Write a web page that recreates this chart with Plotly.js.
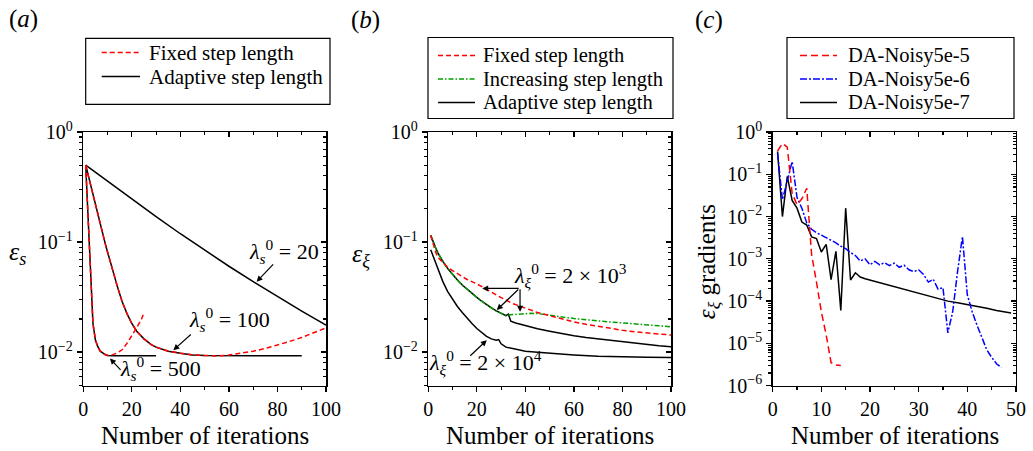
<!DOCTYPE html>
<html><head><meta charset="utf-8">
<script src="https://cdn.plot.ly/plotly-3.0.1.min.js"></script>
<style>html,body{margin:0;padding:0;background:#fff}#chart{width:1033px;height:451px}</style>
</head><body><div id="chart"></div>
<script>
// ---------- Panel (a): epsilon_s ----------
const aLam20X = [1,10,20,30,40,50,60,70,80,90,100];
const aLam20Adaptive = [0.501,0.357,0.245,0.170,0.119,0.0841,0.0603,0.0437,0.0320,0.0236,0.0176];

const aLam100X = [1,2,3,4,5,6,7,8,9,10,12,14,16,18,20,22,25,28,30,35,40,45,50,60,70,80,90];
const aLam100Adaptive = [0.501,0.407,0.324,0.263,0.214,0.174,0.143,0.117,0.0977,0.0813,0.0562,0.0398,0.0288,0.0224,0.0182,0.0155,0.0132,0.0117,0.0111,0.0102,0.00977,0.00944,0.00933,0.00925,0.00925,0.00925,0.00925];
const aLam100FixedX = [1,2,3,4,5,6,7,8,9,10,12,14,16,18,20,22,25,28,30,35,40,45,50,55,60,65,70,75,80,85,90,95,100];
const aLam100Fixed = [0.501,0.407,0.324,0.263,0.214,0.174,0.143,0.117,0.0977,0.0813,0.0562,0.0398,0.0288,0.0224,0.0182,0.0155,0.0132,0.0117,0.0111,0.0102,0.00977,0.00944,0.00933,0.00923,0.0094,0.00977,0.0102,0.0108,0.0116,0.0125,0.0136,0.0150,0.0166];

const aLam500X = [1,2,3,4,5,6,7,8,9,10,11,12,15,20,25,30];
const aLam500Adaptive = [0.501,0.166,0.0398,0.0182,0.0129,0.0112,0.0102,0.00977,0.00951,0.00933,0.00925,0.00925,0.00925,0.00925,0.00925,0.00925];
const aLam500FixedX = [1,2,3,4,5,6,7,8,9,10,11,12,14,16,18,20,22,24,25];
const aLam500Fixed = [0.501,0.166,0.0398,0.0182,0.0129,0.0112,0.0102,0.00977,0.00951,0.00933,0.00933,0.00944,0.00982,0.0105,0.0120,0.0140,0.0166,0.0200,0.0229];

// ---------- Panel (b): epsilon_xi ----------
const bUpperX = [1,2,3,4,5,6,8,10,12,14,16,18,20,22,24,26,28,30,31,32,33,34,36,38,40,45,50,55,60,65,70,75,80,85,90,95,100];
const bAdaptive2e3 = [0.115,0.100,0.0891,0.0794,0.0724,0.0668,0.0575,0.0507,0.0452,0.0407,0.0372,0.0340,0.0314,0.0290,0.0269,0.0252,0.0237,0.0224,0.0217,0.0214,0.0221,0.0191,0.0184,0.0179,0.0174,0.0163,0.0155,0.0147,0.0141,0.0136,0.0132,0.0128,0.0124,0.0120,0.0117,0.0114,0.0112];
const bIncreasingX = [1,2,3,4,5,6,8,10,12,14,16,18,20,22,24,26,28,30,31,32,33,34,36,38,40,42,45,50,55,60,65,70,75,80,85,90,95,100];
const bIncreasing = [0.115,0.100,0.0891,0.0794,0.0724,0.0668,0.0575,0.0507,0.0452,0.0407,0.0372,0.0340,0.0314,0.0290,0.0269,0.0252,0.0237,0.0224,0.0217,0.0214,0.0218,0.0219,0.0221,0.0223,0.0224,0.0225,0.0224,0.0215,0.0209,0.0202,0.0196,0.0192,0.0188,0.0184,0.0180,0.0176,0.0173,0.0170];
const bFixedX = [1,2,3,4,6,8,10,13,16,20,23,26,30,35,40,45,50,55,60,65,70,75,80,85,90,95,100];
const bFixed = [0.115,0.0955,0.0813,0.0724,0.0646,0.0589,0.0550,0.0501,0.0457,0.0417,0.0385,0.0351,0.0313,0.0275,0.0251,0.0229,0.0214,0.0200,0.0188,0.0179,0.0171,0.0164,0.0158,0.0153,0.0149,0.0146,0.0143];
const bLowerX = [1,2,3,4,5,6,8,10,12,14,16,18,20,22,24,26,28,29,30,32,35,40,45,50,60,70,80,90,100];
const bAdaptive2e4 = [0.0851,0.0741,0.0646,0.0556,0.0490,0.0437,0.0355,0.0302,0.0260,0.0229,0.0202,0.0182,0.0164,0.0150,0.0139,0.0132,0.0128,0.0130,0.0119,0.0111,0.0107,0.0102,0.0100,0.00977,0.00944,0.00918,0.00904,0.00897,0.00895];

// ---------- Panel (c): epsilon_xi gradients ----------
const cNoisy5e5X = [1,2,3,4,5,6,7,8,9,10,11,12,13,14];
const cNoisy5e5 = [0.355,0.537,0.437,0.0355,0.0191,0.0263,0.0468,0.00126,0.000282,0.0000562,0.0000158,0.0000035,0.0000031,0.0000030];
const cNoisy5e6X = [1,2,3,4,5,6,7,8,9,10,11,12,13,14,15,16,17,18,19,20,21,22,23,24,25,26,27,28,29,30,31,32,33,34,35,36,37,38,39,40,41,42,43,44,45,46,47];
const cNoisy5e6 = [0.316,0.0251,0.0708,0.200,0.0282,0.0158,0.00708,0.00501,0.00417,0.00363,0.00316,0.00282,0.00240,0.00200,0.00174,0.00141,0.00120,0.000891,0.00100,0.000724,0.000871,0.000724,0.000813,0.000692,0.000794,0.000631,0.000708,0.000550,0.000501,0.000550,0.000427,0.000282,0.000331,0.000191,0.000209,0.0000178,0.0000562,0.000501,0.00339,0.000141,0.0000562,0.0000269,0.0000135,0.00000708,0.00000468,0.00000331,0.00000269];
const cNoisy5e7X = [1,2,3,4,5,6,7,8,9,10,11,12,13,14,15,16,17,18,19,20,22,24,26,28,30,32,34,36,38,40,42,44,46,48,49];
const cNoisy5e7 = [0.347,0.0100,0.0891,0.0240,0.0158,0.00741,0.00631,0.00331,0.00302,0.00145,0.00219,0.000324,0.00151,0.0000603,0.0158,0.000316,0.000468,0.000372,0.000339,0.000316,0.000275,0.000234,0.000204,0.000178,0.000158,0.000135,0.000117,0.000100,0.0000912,0.0000832,0.0000741,0.0000676,0.0000603,0.0000550,0.0000525];

// ---------- Tick labels & legend labels ----------
const abTickVals = [0.01, 0.1, 1];
const abTickText = ['10<sup>\u22122</sup>','10<sup>\u22121</sup>','10<sup>0</sup>'];
const cTickVals = [1e-6,1e-5,1e-4,1e-3,1e-2,1e-1,1];
const cTickText = ['10<sup>\u22126</sup>','10<sup>\u22125</sup>','10<sup>\u22124</sup>','10<sup>\u22123</sup>','10<sup>\u22122</sup>','10<sup>\u22121</sup>','10<sup>0</sup>'];
const aLegendNames = ['Fixed step length','Adaptive step length'];
const bLegendNames = ['Fixed step length','Increasing step length','Adaptive step length'];
const cLegendNames = ['DA-Noisy5e-5','DA-Noisy5e-6','DA-Noisy5e-7'];

const FONT = 'Liberation Serif, Times New Roman, serif';
const RED = '#ff0000', GREEN = '#00a000', BLUE = '#0000ff', BLACK = '#000000';
const DASH_RED = '5px,3px', DASH_GREEN = '5px,2px,1.5px,2px', DASH_BLUE = '7px,2px,2px,2px', DASH_RED_C = '7px,4px';
const W = 1033, H = 451;
const px = v => v / W, py = v => 1 - v / H;

function logMinor(lo, hi){ const v=[]; for(let e=lo;e<hi;e++){ for(let m=2;m<=9;m++){ v.push(m*Math.pow(10,e)); } } return v; }

const YDOM = [0.1448, 0.7073];
function xAxis(domain, range, dtick, mdt, anchor, mirror, over){
  const a = {domain, range, anchor, tickmode:'linear', tick0:0, dtick,
    ticks: mirror?'inside':'outside', ticklen:5, tickwidth:1.3, tickcolor:BLACK,
    showline:true, linecolor:BLACK, linewidth:1.5, showgrid:false, zeroline:false,
    showticklabels: !mirror, tickfont:{family:FONT,size:20,color:BLACK},
    minor:{tickmode:'linear', tick0:0, dtick:mdt, ticks: mirror?'inside':'outside', ticklen:3, tickwidth:1.1, tickcolor:BLACK, showgrid:false},
    fixedrange:true};
  if(mirror){ a.overlaying = over; a.side='top'; }
  return a;
}
function yAxis(range, tv, tt, minorVals, anchor, mirror, over){
  const a = {domain:YDOM, type:'log', range, anchor, tickmode:'array', tickvals:tv, ticktext:tt,
    ticks: mirror?'inside':'outside', ticklen:5, tickwidth:1.3, tickcolor:BLACK,
    showline:true, linecolor:BLACK, linewidth:1.5, showgrid:false, zeroline:false,
    showticklabels: !mirror, tickfont:{family:FONT,size:20,color:BLACK},
    minor:{tickmode:'array', tickvals:minorVals, ticks: mirror?'inside':'outside', ticklen:3, tickwidth:1.1, tickcolor:BLACK, showgrid:false},
    fixedrange:true};
  if(mirror){ a.overlaying = over; a.side='right'; }
  return a;
}

const abMinor = logMinor(-3, 0);
const cMinor = logMinor(-6, 0);
const abRange = [-2.305, 0];
const cRange = [-6, 0];

const traces = [];
function line(x, y, xa, ya, color, dash, name){
  traces.push({type:'scatter', mode:'lines', x, y, xaxis:xa, yaxis:ya, name,
    line:{color, width:1.5, dash}, showlegend:false, hoverinfo:'skip'});
}
// Panel a
line(aLam20X, aLam20Adaptive, 'x','y', BLACK,'solid', aLegendNames[1]);
line(aLam100X, aLam100Adaptive, 'x','y', BLACK,'solid', aLegendNames[1]);
line(aLam500X, aLam500Adaptive, 'x','y', BLACK,'solid', aLegendNames[1]);
line(aLam100FixedX, aLam100Fixed, 'x','y', RED, DASH_RED, aLegendNames[0]);
line(aLam500FixedX, aLam500Fixed, 'x','y', RED, DASH_RED, aLegendNames[0]);
// Panel b
line(bUpperX, bAdaptive2e3, 'x2','y2', BLACK,'solid', bLegendNames[2]);
line(bLowerX, bAdaptive2e4, 'x2','y2', BLACK,'solid', bLegendNames[2]);
line(bIncreasingX, bIncreasing, 'x2','y2', GREEN, DASH_GREEN, bLegendNames[1]);
line(bFixedX, bFixed, 'x2','y2', RED, DASH_RED, bLegendNames[0]);
// Panel c
line(cNoisy5e7X, cNoisy5e7, 'x3','y3', BLACK,'solid', cLegendNames[2]);
line(cNoisy5e6X, cNoisy5e6, 'x3','y3', BLUE, DASH_BLUE, cLegendNames[1]);
line(cNoisy5e5X, cNoisy5e5, 'x3','y3', RED, DASH_RED_C, cLegendNames[0]);
// mirror (top/right) axes holders
[['x4','y4'],['x5','y5'],['x6','y6']].forEach(p=>traces.push({type:'scatter',mode:'lines',x:[],y:[],xaxis:p[0],yaxis:p[1],showlegend:false,hoverinfo:'skip'}));

function txt(x, y, xref, yref, text, size, extra){
  return Object.assign({x, y, xref, yref, text, showarrow:false, font:{family:FONT,size,color:BLACK}, xanchor:'center', yanchor:'middle'}, extra||{});
}
function arrow(x, y, xref, yref, ax, ay){
  return {x, y, xref, yref, text:'', showarrow:true, ax, ay, arrowhead:2, arrowsize:1, arrowwidth:1.2, arrowcolor:BLACK, standoff:0, startstandoff:0};
}

const annotations = [
  txt(0.0223, 0.958, 'paper','paper', '(<i>a</i>)', 25),
  txt(0.3543, 0.956, 'paper','paper', '(<i>b</i>)', 25),
  txt(0.6866, 0.956, 'paper','paper', '(<i>c</i>)', 25),
  txt(0.0165, 0.439, 'paper','paper', '<i>ε</i><sub><i>s</i></sub>', 26),
  txt(0.3495, 0.435, 'paper','paper', '<i>ε</i><sub><i>ξ</i></sub>', 26),
  txt(0.6860, 0.420, 'paper','paper', '<i>ε</i><sub><i>ξ</i></sub> gradients', 25, {textangle:-90}),
  txt(0.198, 0.0333, 'paper','paper', 'Number of iterations', 25),
  txt(0.532, 0.0333, 'paper','paper', 'Number of iterations', 25),
  txt(0.866, 0.0333, 'paper','paper', 'Number of iterations', 25),
  // panel a labels
  txt(82.7, -1.088, 'x','y', '<i>λ</i><sub><i>s</i></sub><sup>0</sup> = 20', 22),
  txt(60.4, -1.70, 'x','y', '<i>λ</i><sub><i>s</i></sub><sup>0</sup> = 100', 22),
  txt(31.9, -2.148, 'x','y', '<i>λ</i><sub><i>s</i></sub><sup>0</sup> = 500', 22),
  arrow(71.4, -1.361, 'x','y', 18, -19),
  arrow(37.1, -1.982, 'x','y', 19, -17),
  arrow(11.0, -2.057, 'x','y', 12, 13),
  // panel b labels
  txt(58.7, -1.30, 'x2','y2', '<i>λ</i><sub><i>ξ</i></sub><sup>0</sup> = 2 × 10<sup>3</sup>', 22),
  txt(23.7, -2.09, 'x2','y2', '<i>λ</i><sub><i>ξ</i></sub><sup>0</sup> = 2 × 10<sup>4</sup>', 22),
  arrow(22.2, -1.421, 'x2','y2', 38, 0),
  arrow(28.2, -1.618, 'x2','y2', 23, -22),
  arrow(37.8, -1.634, 'x2','y2', 0, -24),
  arrow(24.1, -1.891, 'x2','y2', -18, 17)
];

// ---------- Legends (boxes, line samples, labels) ----------
const shapes = [];
function legendBox(x0, x1, y0, y1){
  shapes.push({type:'rect', xref:'paper', yref:'paper', x0:px(x0), x1:px(x1), y0:py(y0), y1:py(y1), line:{color:BLACK,width:1.2}, fillcolor:'#ffffff', layer:'above'});
}
function legendItem(lx0, lx1, tx, yy, color, dash, label, size){
  shapes.push({type:'line', xref:'paper', yref:'paper', x0:px(lx0), x1:px(lx1), y0:py(yy), y1:py(yy), line:{color, width:1.5, dash}, layer:'above'});
  annotations.push(txt(px(tx), py(yy), 'paper','paper', label, size, {xanchor:'left'}));
}
legendBox(85.7, 330, 38.3, 104.3);
legendItem(101.7, 140, 146.5, 52.5, RED, DASH_RED, aLegendNames[0], 21);
legendItem(101.7, 140, 146.5, 76.5, BLACK, 'solid', aLegendNames[1], 21);
legendBox(428, 673, 37.5, 118.5);
legendItem(438, 475, 481, 55.4, RED, DASH_RED, bLegendNames[0], 20.5);
legendItem(438, 475, 481, 79.0, GREEN, DASH_GREEN, bLegendNames[1], 20.5);
legendItem(438, 475, 481, 102.6, BLACK, 'solid', bLegendNames[2], 20.5);
legendBox(787, 1014, 37.5, 118.5);
legendItem(800, 837, 846, 55.4, RED, DASH_RED_C, cLegendNames[0], 20.5);
legendItem(800, 837, 846, 79.0, BLUE, DASH_BLUE, cLegendNames[1], 20.5);
legendItem(800, 837, 846, 102.6, BLACK, 'solid', cLegendNames[2], 20.5);

const layout = {
  width:W, height:H, margin:{l:0,r:0,t:0,b:0}, paper_bgcolor:'#fff', plot_bgcolor:'rgba(0,0,0,0)',
  font:{family:FONT, color:BLACK}, showlegend:false,
  xaxis: xAxis([0.0806,0.3156],[0,100],20,10,'y',false),
  yaxis: yAxis(abRange, abTickVals, abTickText, abMinor, 'x', false),
  xaxis2: xAxis([0.4146,0.6496],[0,100],20,10,'y2',false),
  yaxis2: yAxis(abRange, abTickVals, abTickText, abMinor, 'x2', false),
  xaxis3: xAxis([0.748,0.9835],[0,50],10,5,'y3',false),
  yaxis3: yAxis(cRange, cTickVals, cTickText, cMinor, 'x3', false),
  xaxis4: xAxis([0.0806,0.3156],[0,100],20,10,'y',true,'x'),
  yaxis4: yAxis(abRange, abTickVals, abTickText, abMinor, 'x', true,'y'),
  xaxis5: xAxis([0.4146,0.6496],[0,100],20,10,'y2',true,'x2'),
  yaxis5: yAxis(abRange, abTickVals, abTickText, abMinor, 'x2', true,'y2'),
  xaxis6: xAxis([0.748,0.9835],[0,50],10,5,'y3',true,'x3'),
  yaxis6: yAxis(cRange, cTickVals, cTickText, cMinor, 'x3', true,'y3'),
  annotations, shapes
};

Plotly.newPlot('chart', traces, layout, {staticPlot:true, displayModeBar:false});
</script></body></html>
